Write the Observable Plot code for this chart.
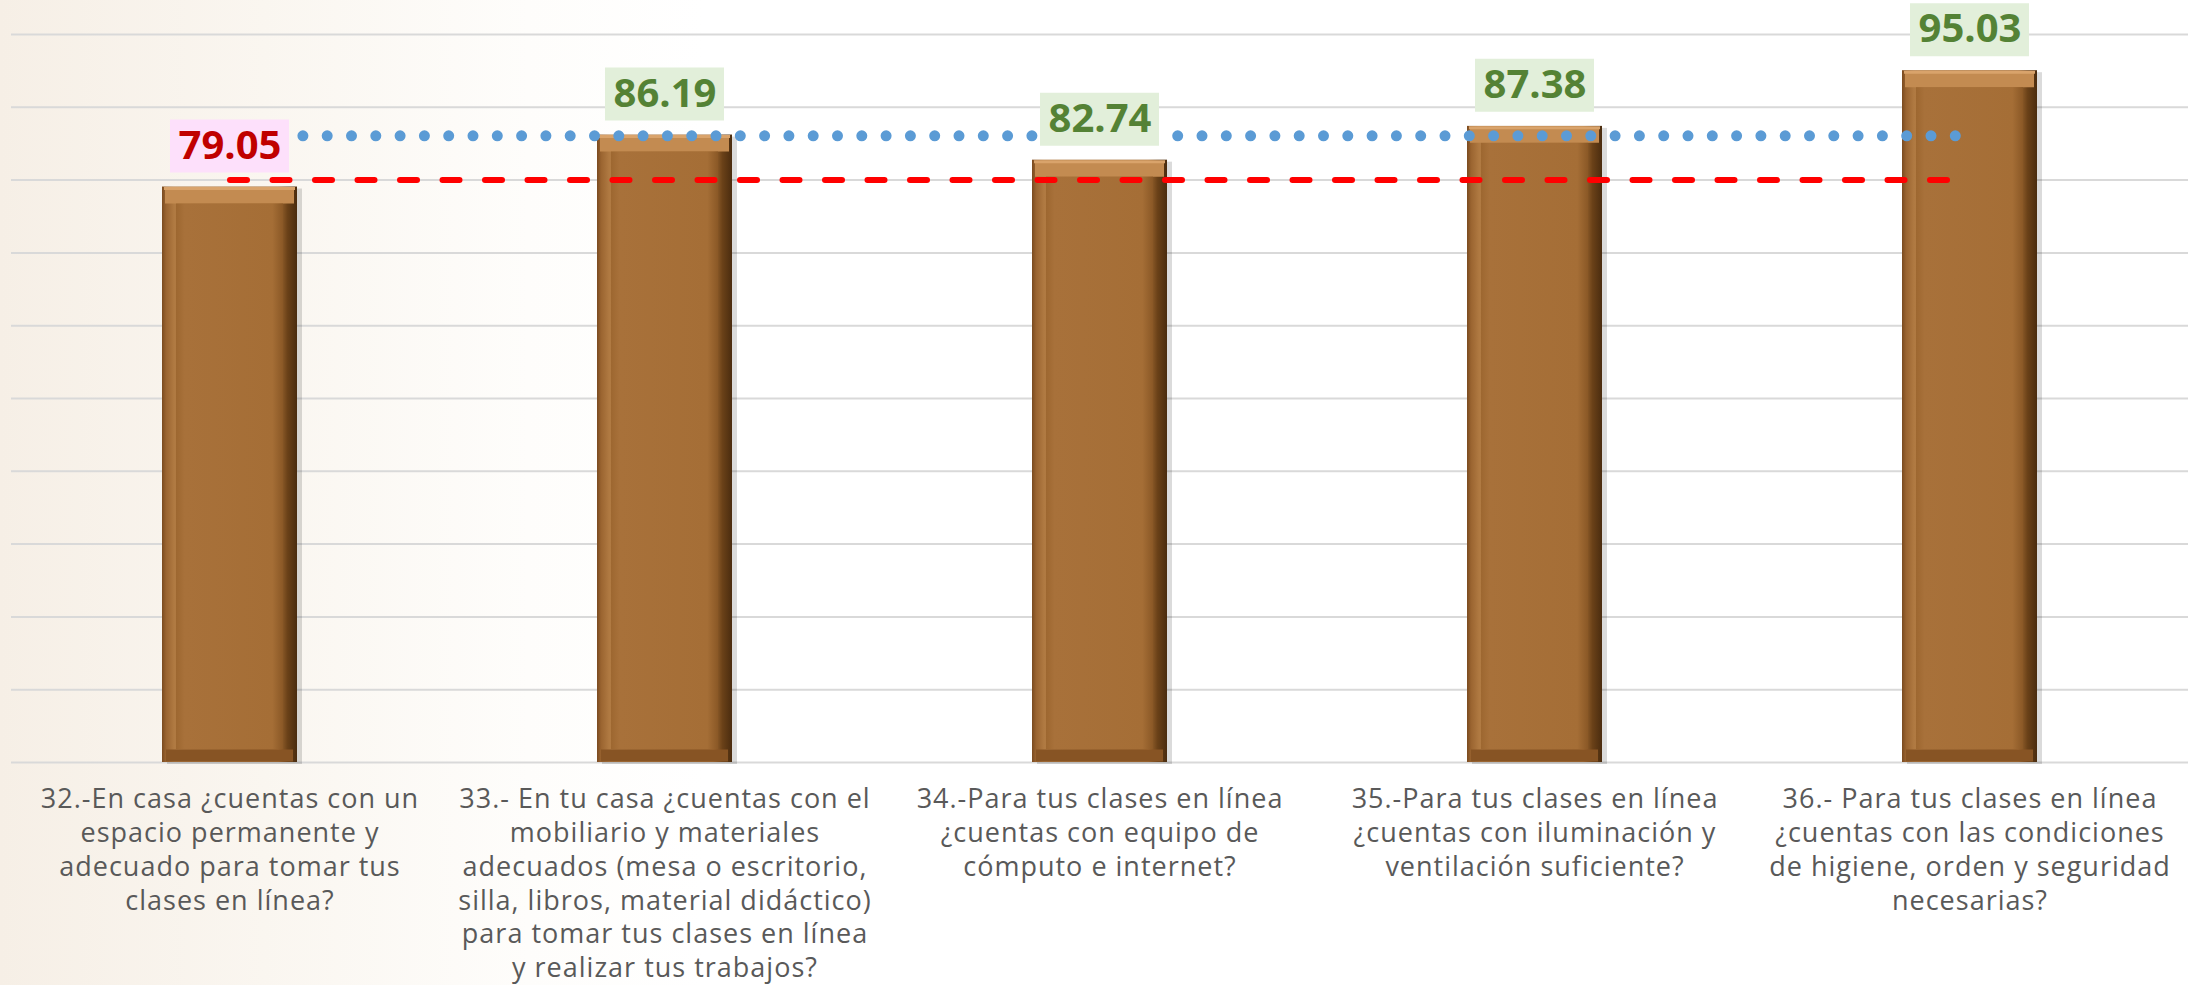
<!DOCTYPE html>
<html>
<head>
<meta charset="utf-8">
<script src="https://cdn.jsdelivr.net/npm/d3@7"></script>
<script src="https://cdn.jsdelivr.net/npm/@observablehq/plot@0.6"></script>
<style>
  html, body { margin: 0; padding: 0; }
  body {
    width: 2199px; height: 985px; overflow: hidden;
    background: linear-gradient(to right, #f6efe6 0%, #faf6f0 12%, #fefdfb 24%, #ffffff 32%, #ffffff 100%);
    font-family: "Open Sans", sans-serif;
  }
  g[aria-label="x-axis tick label"] text { letter-spacing: 1px; }
</style>
</head>
<body>
<svg width="0" height="0" style="position:absolute">
  <defs>
    <linearGradient id="frameGrad" x1="0" x2="1" y1="0" y2="0">
      <stop offset="0%" stop-color="#7a4a1f"/>
      <stop offset="3%" stop-color="#9a6430"/>
      <stop offset="9%" stop-color="#b07a42"/>
      <stop offset="86%" stop-color="#a26b33"/>
      <stop offset="93%" stop-color="#6a4118"/>
      <stop offset="100%" stop-color="#4a2c0f"/>
    </linearGradient>
    <linearGradient id="faceGrad" x1="0" x2="1" y1="0" y2="0">
      <stop offset="0%" stop-color="#9d6730"/>
      <stop offset="8%" stop-color="#a8713a"/>
      <stop offset="90%" stop-color="#a56e36"/>
      <stop offset="100%" stop-color="#8a5826"/>
    </linearGradient>
  </defs>
</svg>
<div id="chart"></div>
<script>
const categories = [
  "32.-En casa ¿cuentas con un\nespacio permanente y\nadecuado para tomar tus\nclases en línea?",
  "33.- En tu casa ¿cuentas con el\nmobiliario y materiales\nadecuados (mesa o escritorio,\nsilla, libros, material didáctico)\npara tomar tus clases en línea\ny realizar tus trabajos?",
  "34.-Para tus clases en línea\n¿cuentas con equipo de\ncómputo e internet?",
  "35.-Para tus clases en línea\n¿cuentas con iluminación y\nventilación suficiente?",
  "36.- Para tus clases en línea\n¿cuentas con las condiciones\nde higiene, orden y seguridad\nnecesarias?"
];
const values = [79.05, 86.19, 82.74, 87.38, 95.03];
const threshold = 80;
const yTicks = [0, 10, 20, 30, 40, 50, 60, 70, 80, 90, 100];

const data = categories.map((c, i) => ({category: c, value: values[i]}));
const average = d3.mean(values);

const red = "#c00000", green = "#548235";
const pinkBox = "#fde0fb", greenBox = "#e2efda";

const chart = Plot.plot({
  width: 2199,
  height: 985,
  marginTop: 34,
  marginBottom: 223,
  marginLeft: 11,
  marginRight: 11,
  style: {background: "transparent", fontFamily: "Open Sans"},
  x: {type: "band", domain: categories, paddingInner: 0.69, paddingOuter: 0.345, label: null},
  y: {domain: [0, 100], axis: null},
  marks: [
    Plot.gridY(yTicks, {stroke: "#d9d9d9", strokeOpacity: 1, strokeWidth: 2}),
    // shadow
    Plot.barY(data, {x: "category", y: "value", fill: "#000", fillOpacity: 0.14, dx: 5, dy: 2}),
    // frame
    Plot.barY(data, {x: "category", y: "value", fill: "url(#frameGrad)"}),
    // top bevel
    Plot.tickY(data, {x: "category", y: "value", dy: 9, stroke: "#c38b51", strokeWidth: 15, insetLeft: 3, insetRight: 3}),
    // bottom bevel
    Plot.tickY(data, {x: "category", y: 0, dy: -7, stroke: "#875424", strokeWidth: 12, insetLeft: 4, insetRight: 4}),
    // face
    Plot.barY(data, {x: "category", y: "value", fill: "url(#faceGrad)", insetLeft: 14, insetRight: 14, insetTop: 17, insetBottom: 13}),
    // top rim highlight
    Plot.tickY(data, {x: "category", y: "value", dy: 1.5, stroke: "#d9a36b", strokeWidth: 3, insetLeft: 2, insetRight: 2}),
    // threshold line
    Plot.lineY(data, {x: "category", y: () => threshold, stroke: "#ff0000", strokeWidth: 6, strokeDasharray: "17 25.5", strokeLinecap: "round"}),
    // average line
    Plot.lineY(data, {x: "category", y: () => average, stroke: "#5b9bd5", strokeWidth: 11, strokeDasharray: "0 24.3", strokeLinecap: "round"}),
    // label boxes
    Plot.tickY(data, {x: "category", y: "value", dy: -41, strokeWidth: 53, insetLeft: 8, insetRight: 8,
      stroke: d => d.value < threshold ? pinkBox : greenBox}),
    // value labels
    Plot.text(data, {x: "category", y: "value", dy: -41, text: d => d.value.toFixed(2),
      fill: d => d.value < threshold ? red : green, fontSize: 40, fontWeight: "bold", fontFamily: "Open Sans"}),
    Plot.axisX({tickSize: 0, tickPadding: 22, fontSize: 27, lineHeight: 1.25, fill: "#595959", fontFamily: "Open Sans", label: null})
  ]
});
document.getElementById("chart").appendChild(chart);
</script>
</body>
</html>
